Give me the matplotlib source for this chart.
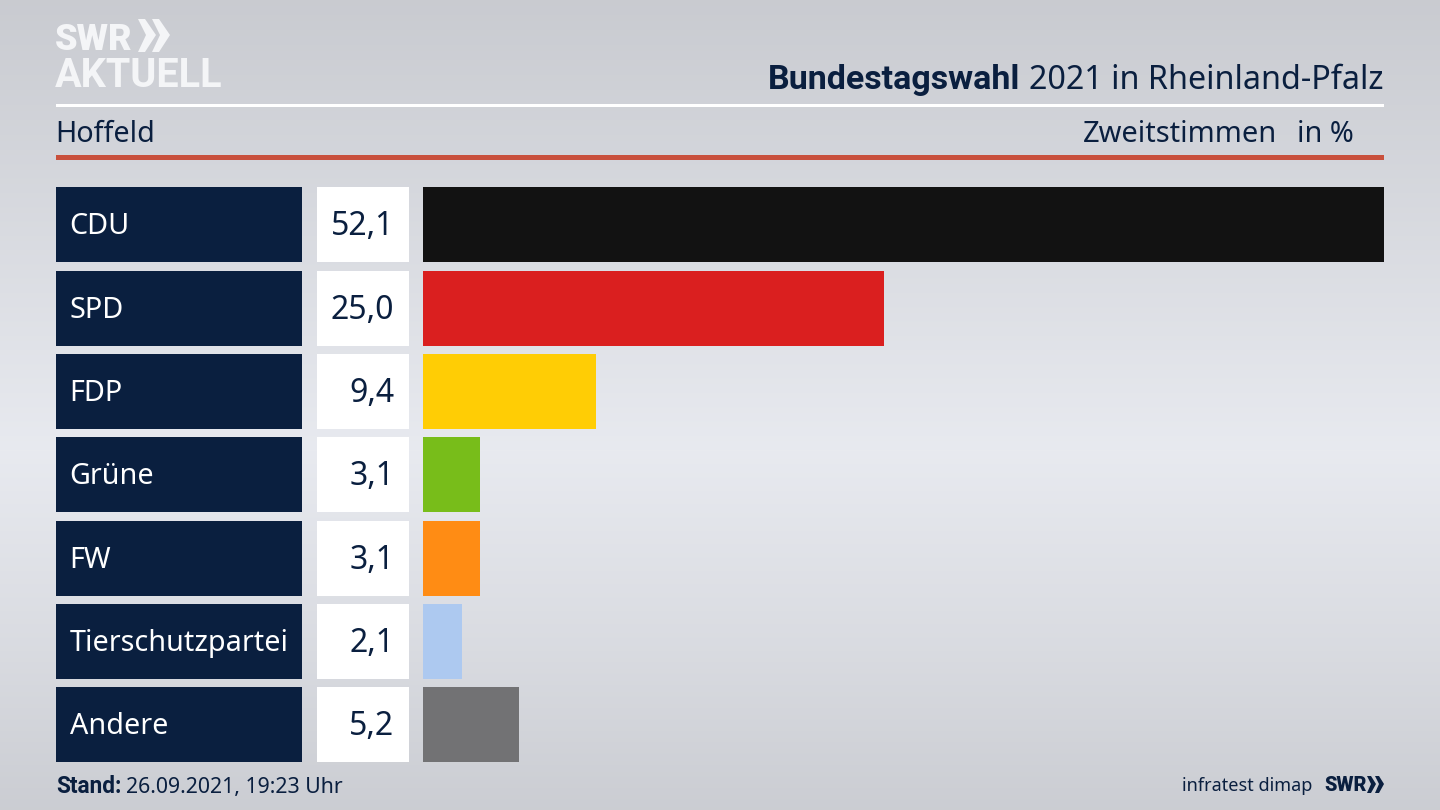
import matplotlib
matplotlib.use('Agg')
import matplotlib.pyplot as plt
from matplotlib.patches import Rectangle, Polygon
import numpy as np

parties = ['CDU', 'SPD', 'FDP', 'Grüne', 'FW', 'Tierschutzpartei', 'Andere']
values = [52.1, 25.0, 9.4, 3.1, 3.1, 2.1, 5.2]
value_labels = ['52,1', '25,0', '9,4', '3,1', '3,1', '2,1', '5,2']
colors = ['#121212', '#da1f1f', '#ffcd05', '#78bd1a', '#ff8c14', '#adc9f0', '#727274']

NAVY = '#0a1f3f'
plt.rcParams['font.family'] = 'Noto Sans'

fig = plt.figure(figsize=(14.4, 8.1), dpi=100)

# whole figure in pixel coordinates, y going down
bg = fig.add_axes([0, 0, 1, 1])
bg.set_xlim(0, 1440)
bg.set_ylim(810, 0)
bg.axis('off')

# background gradient, light band in the middle
stops_y = [0, 150, 450, 650, 810]
stops_c = [0xc9, 0xd3, 0xe8, 0xd9, 0xcb]
grad = np.interp(np.arange(810), stops_y, stops_c) / 255
img = np.stack([grad, grad + 0.008, grad + 0.03], axis=1).clip(0, 1)
bg.imshow(img[:, None, :], extent=(0, 1440, 810, 0), aspect='auto', zorder=0)

# header lines
bg.add_patch(Rectangle((56, 104), 1328, 3, color='white', lw=0))
bg.add_patch(Rectangle((56, 155), 1328, 5, color='#c9503c', lw=0))

# logo
bg.text(55, 50, 'SWR', color='#f4f5f7', fontsize=26, fontweight='black', family='Roboto', va='baseline')
bg.text(55, 87, 'AKTUELL', color='#f4f5f7', fontsize=28.5, fontweight='bold', family='Roboto', va='baseline')
for dx in [0, 14]:
    bg.add_patch(Polygon([(x + dx, y) for x, y in [(138, 19), (145, 19), (156, 35), (145, 52), (138, 52), (146, 35)]],
                         color='#f4f5f7', lw=0))

# titles
bg.text(1020, 89, 'Bundestagswahl', color=NAVY, fontsize=24.5, fontweight='bold', family='Roboto', ha='right', va='baseline')
bg.text(1029, 89, '2021 in Rheinland-Pfalz', color=NAVY, fontsize=23.25, ha='left', va='baseline')
bg.text(55, 142, 'Hoffeld', color=NAVY, fontsize=20.7, va='baseline')
bg.text(1277, 142, 'Zweitstimmen', color=NAVY, fontsize=20.9, ha='right', va='baseline')
bg.text(1354, 142, 'in %', color=NAVY, fontsize=20.7, ha='right', va='baseline')

# bars
ax = fig.add_axes([423 / 1440, 1 - 762.4 / 810, 961 / 1440, 575 / 810])
ax.patch.set_alpha(0)
y = np.arange(len(parties))
ax.barh(y, values, height=0.9, color=colors)
ax.set_xlim(0, max(values))
ax.set_ylim(len(parties) - 0.55, -0.45)
ax.axis('off')

# label and value boxes next to each bar
for i, (name, label) in enumerate(zip(parties, value_labels)):
    top = 187.4 + i * 83.33
    bg.add_patch(Rectangle((56, top), 246, 75, color=NAVY, lw=0))
    bg.add_patch(Rectangle((317, top), 92, 75, color='white', lw=0))
    bg.text(69.5, top + 47, name, color='white', fontsize=20.7, va='baseline')
    bg.text(394.5, top + 48, label, color=NAVY, fontsize=23, ha='right', va='baseline')

# footer
bg.text(56, 793, 'Stand:', color=NAVY, fontsize=16.3, fontweight='bold', family='Roboto', va='baseline')
bg.text(126, 793, '26.09.2021, 19:23 Uhr', color=NAVY, fontsize=15.3, va='baseline')
bg.text(1312, 791, 'infratest dimap', color=NAVY, fontsize=13, ha='right', va='baseline')
bg.text(1324, 791, 'SWR', color=NAVY, fontsize=14.2, fontweight='black', family='Roboto', va='baseline')
for dx in [0, 8]:
    bg.add_patch(Polygon([(x + dx, y_) for x, y_ in [(1367, 776), (1371, 776), (1376, 784), (1371, 793), (1367, 793), (1371, 784)]],
                         color=NAVY, lw=0))

fig.savefig('out.png', dpi=100)
